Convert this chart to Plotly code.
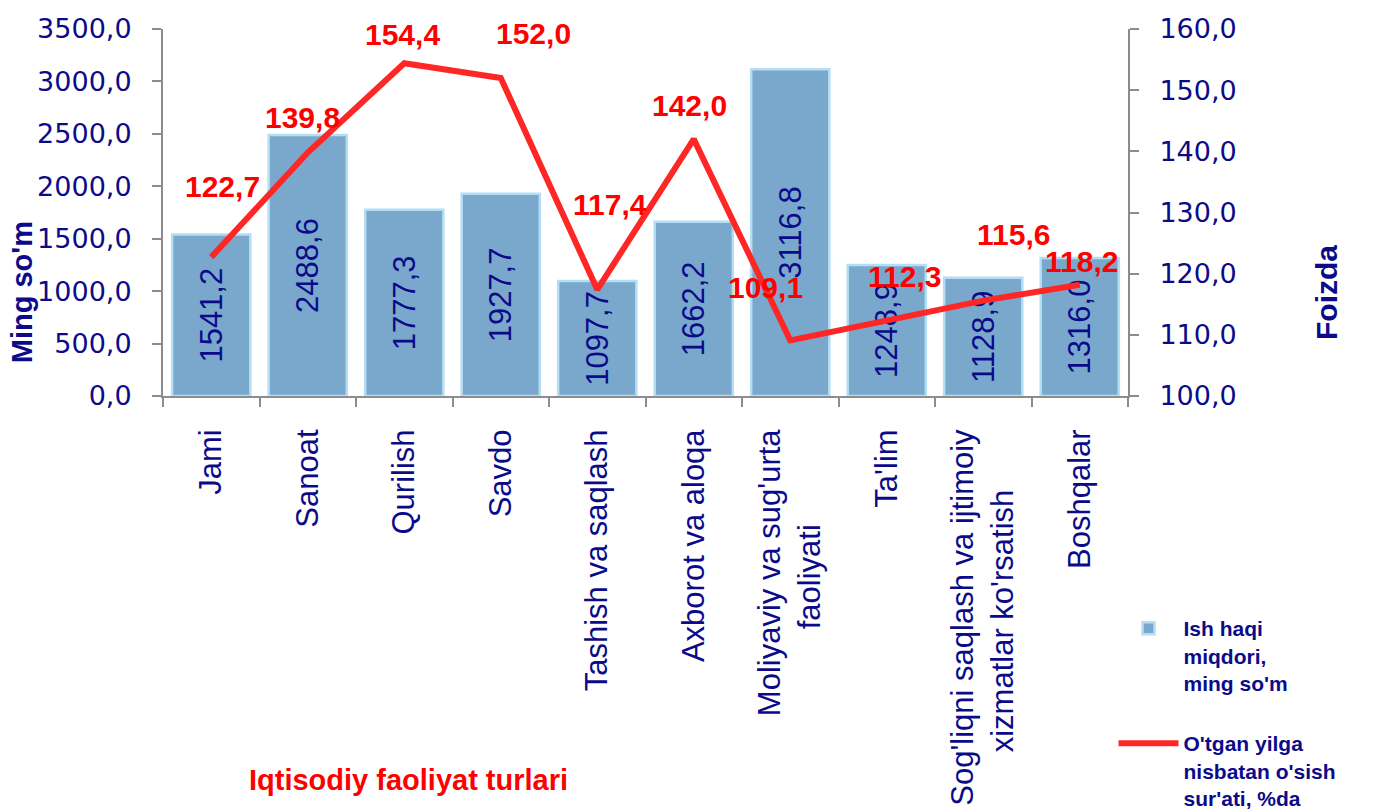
import plotly.graph_objects as go

categories = ["Jami", "Sanoat", "Qurilish", "Savdo", "Tashish va saqlash",
              "Axborot va aloqa", "Moliyaviy va sug'urta faoliyati", "Ta'lim",
              "Sog'liqni saqlash va ijtimoiy xizmatlar ko'rsatish", "Boshqalar"]
NB = "\u00a0"
tick_labels = ["Jami", "Sanoat", "Qurilish", "Savdo", "Tashish va saqlash",
               "Axborot va aloqa", "Moliyaviy va sug'urta<br>faoliyati" + NB * 11, "Ta'lim",
               "Sog'liqni saqlash va ijtimoiy<br>xizmatlar ko'rsatish" + NB * 7, "Boshqalar"]
wages = [1541.2, 2488.6, 1777.3, 1927.7, 1097.7, 1662.2, 3116.8, 1248.9, 1128.9, 1316.0]
growth = [122.7, 139.8, 154.4, 152.0, 117.4, 142.0, 109.1, 112.3, 115.6, 118.2]
label_dx = [11, -5, -2, 33, 13, -4, -25, 18, 30, 2]
label_dy = [71, 35, 29, 44, 85, 34, 53, 44, 66, 23]

NAVY = "#0B0B8A"
RED = "#FF0000"
ARIAL = "Liberation Sans, Arial, sans-serif"
WIDE = "DejaVu Sans, Verdana, sans-serif"

def fmt(v):
    return f"{v:.1f}".replace(".", ",")

fig = go.Figure()
fig.add_trace(go.Bar(
    x=categories, y=wages, name="Ish haqi<br>miqdori,<br>ming so'm", legendgroup="a",
    marker=dict(color="#7AA8CC", line=dict(color="#B5DDF3", width=2.5)),
    text=[fmt(v) for v in wages], textposition="inside", insidetextanchor="middle",
    textangle=-90, constraintext="none",
    insidetextfont=dict(color=NAVY, size=31, family=ARIAL),
    yaxis="y",
))
fig.add_trace(go.Scatter(
    x=categories, y=growth, name="O'tgan yilga<br>nisbatan o'sish<br>sur'ati, %da", legendgroup="b",
    mode="lines", line=dict(color="#FF2626", width=6), yaxis="y2",
))

for c, g, dx, dy in zip(categories, growth, label_dx, label_dy):
    fig.add_annotation(x=c, y=g, yref="y2", text=f"<b>{fmt(g)}</b>", showarrow=False,
                       xshift=dx, yshift=dy, font=dict(color=RED, size=30, family=ARIAL))

fig.add_annotation(xref="paper", yref="paper", x=-0.146, y=0.283, text="<b>Ming so'm</b>",
                   xanchor="center", yanchor="middle",
                   textangle=-90, showarrow=False, font=dict(color=NAVY, size=29, family=ARIAL))
fig.add_annotation(xref="paper", yref="paper", x=1.205, y=0.283, text="<b>Foizda</b>",
                   xanchor="center", yanchor="middle",
                   textangle=-90, showarrow=False, font=dict(color=NAVY, size=30, family=ARIAL))
fig.add_annotation(xref="paper", yref="paper", x=0.254, y=-1.046,
                   xanchor="center", yanchor="middle",
                   text="<b>Iqtisodiy faoliyat turlari</b>", showarrow=False,
                   font=dict(color=RED, size=29, family=ARIAL))

axis_common = dict(showgrid=False, showline=True, linecolor="#8C8C8C", linewidth=2,
                   ticks="outside", tickcolor="#8C8C8C", ticklen=9, tickwidth=2,
                   ticklabelstandoff=15, automargin=False,
                   tickfont=dict(color=NAVY, size=27, family=WIDE), zeroline=False)

fig.update_layout(
    width=1374, height=812,
    margin=dict(l=163, r=246, t=29, b=416, autoexpand=False),
    plot_bgcolor="white", paper_bgcolor="white",
    separators=",.",
    bargap=0.19,
    showlegend=True,
    legend=dict(x=0.985, y=-0.578, xanchor="left", yanchor="top", valign="top",
                traceorder="grouped",
                font=dict(color=NAVY, size=21, family=ARIAL, weight="bold"),
                tracegroupgap=30, itemwidth=60, bgcolor="rgba(0,0,0,0)"),
    xaxis=dict(showgrid=False, showline=True, linecolor="#8C8C8C", linewidth=2,
               ticks="outside", tickson="boundaries", tickcolor="#8C8C8C", ticklen=9, tickwidth=2,
               tickangle=-90, ticklabelstandoff=19, automargin=False,
               tickmode="array", tickvals=categories, ticktext=tick_labels,
               tickfont=dict(color=NAVY, size=31, family=ARIAL)),
    yaxis=dict(range=[0, 3500], dtick=500, tickformat=".1f", **axis_common),
    yaxis2=dict(range=[100, 160], dtick=10, tickformat=".1f", overlaying="y", side="right",
                **axis_common),
)

fig.write_html("out.html", config={"displayModeBar": False},
               post_script="document.body.style.margin='0';document.body.style.overflow='hidden';")
